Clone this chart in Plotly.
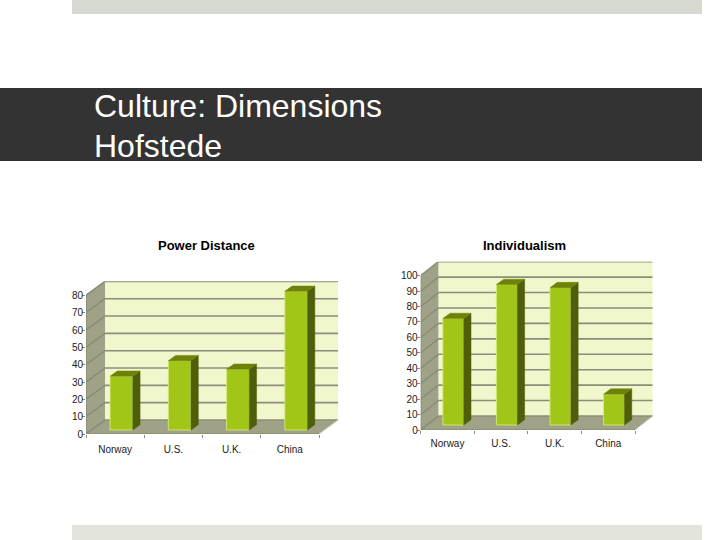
import plotly.graph_objects as go

categories = ["Norway", "U.S.", "U.K.", "China"]
power_distance = [31, 40, 35, 80]
individualism = [69, 91, 89, 20]
pd_ticks = [0, 10, 20, 30, 40, 50, 60, 70, 80]
idv_ticks = [0, 10, 20, 30, 40, 50, 60, 70, 80, 90, 100]

W, H = 720, 540
FIG_H = 546  # a bit taller than the window, came out squashed at 540
WALL = "#f0f7cc"
SHADE = "#a0a288"
GRID = "#8c8d76"
FRONT = "#a2c617"
SIDE = "#4f5e08"
TOP = "#6e8208"
FONT = "Liberation Sans"

fig = go.Figure()
shapes = []
annotations = []


def chart(n, values, ticks, x0, x4, y0, px_per_unit, dep_x, dep_y, lift, title, title_x, label_gap):
    # x0/x4 = front floor left and right, y0 = front floor y (pixels)
    xa, ya = "x" + str(n), "y" + str(n)
    cat_w = (x4 - x0) / 4
    dx = dep_x / cat_w
    dy = dep_y / px_per_unit
    vmax = ticks[-1]
    xmax = 4 + dx
    ymax = vmax + dy

    def poly(pts, fill):
        path = "M " + " L ".join(f"{a},{b}" for a, b in pts) + " Z"
        shapes.append(dict(type="path", path=path, xref=xa, yref=ya, fillcolor=fill,
                           line=dict(width=0), layer="below"))

    def seg(a, b, c, d, width=1.6, color=GRID):
        shapes.append(dict(type="line", x0=a, y0=b, x1=c, y1=d, xref=xa, yref=ya,
                           line=dict(color=color, width=width), layer="below"))

    poly([(dx, dy), (xmax, dy), (xmax, ymax), (dx, ymax)], WALL)
    poly([(0, 0), (dx, dy), (dx, ymax), (0, vmax)], SHADE)
    poly([(0, 0), (4, 0), (xmax, dy), (dx, dy)], SHADE)
    for t in ticks:
        seg(0, t, dx, t + dy)
        seg(dx, t + dy, xmax, t + dy)
    seg(0, 0, 0, vmax)
    seg(0, 0, 4, 0)
    seg(4, 0, xmax, dy, 1, "#c8c9b8")

    base = lift / px_per_unit
    bar_w = 0.39
    bar_x = [i + 0.608 for i in range(len(values))]
    fig.add_trace(go.Bar(x=bar_x, y=values, base=base, width=bar_w, xaxis=xa, yaxis=ya,
                         marker=dict(color=FRONT, line=dict(color="#dcec80", width=0.8)),
                         hoverinfo="skip", showlegend=False))

    ddx = 7.3 / cat_w
    ddy = 5.3 / px_per_unit
    side_x, side_y, top_x, top_y = [], [], [], []
    for x, v in zip(bar_x, values):
        r = x + bar_w / 2
        l = x - bar_w / 2
        t = base + v
        side_x += [r, r, r + ddx, r + ddx, r, None]
        side_y += [base, t, t + ddy, base + ddy, base, None]
        top_x += [l, r, r + ddx, l + ddx, l, None]
        top_y += [t, t, t + ddy, t + ddy, t, None]
    for px, py, col in ((side_x, side_y, SIDE), (top_x, top_y, TOP)):
        fig.add_trace(go.Scatter(x=px, y=py, xaxis=xa, yaxis=ya, mode="lines",
                                 fill="toself", fillcolor=col, line=dict(color=col, width=0.5),
                                 hoverinfo="skip", showlegend=False))

    font = dict(family=FONT, size=10, color="#1a1a1a")
    fig.update_layout({
        "xaxis" + str(n): dict(
            domain=[x0 / W, (x4 + dep_x) / W], range=[0, xmax], anchor=ya,
            showgrid=False, zeroline=False, showline=False,
            tickmode="array", tickvals=[i + 0.5 for i in range(4)], ticktext=categories,
            ticks="", tickfont=font, ticklabelstandoff=label_gap,
            minor=dict(tickmode="array", tickvals=[0, 1, 2, 3, 4], ticks="outside",
                       ticklen=3, tickcolor=GRID, tickwidth=1)),
        "yaxis" + str(n): dict(
            domain=[1 - y0 / H, 1 - (y0 - ymax * px_per_unit) / H], range=[0, ymax], anchor=xa,
            showgrid=False, zeroline=False, showline=False,
            tickmode="array", tickvals=ticks, ticks="outside", ticklen=3,
            tickcolor=GRID, tickwidth=1, tickfont=font, ticklabelstandoff=-3),
    })
    annotations.append(dict(text="<b>" + title + "</b>", x=title_x / W, y=1 - 245 / H,
                            xref="paper", yref="paper", showarrow=False,
                            xanchor="center", yanchor="middle",
                            font=dict(family=FONT, size=13, color="#000000")))


chart("", power_distance, pd_ticks, 86, 319, 434, 1.733, 19, 14, 4, "Power Distance", 207, 8)
chart(2, individualism, idv_ticks, 420.7, 635, 430, 1.543, 17.7, 14, 5, "Individualism", 524, 6)

# slide bands
for bx0, by0, bx1, by1, col in ((72, 0, 702, 14, "#d6d9cf"),
                                (0, 88, 702, 161, "#333333"),
                                (72, 525, 702, 540, "#e3e4dc")):
    shapes.append(dict(type="rect", xref="paper", yref="paper", x0=bx0 / W, x1=bx1 / W,
                       y0=1 - by0 / H, y1=1 - by1 / H, fillcolor=col,
                       line=dict(width=0), layer="below"))

for txt, ty in (("Culture: Dimensions", 106), ("Hofstede", 146)):
    annotations.append(dict(text=txt, x=92 / W, y=1 - ty / H, xref="paper", yref="paper",
                            showarrow=False, xanchor="left", yanchor="middle",
                            font=dict(family=FONT, size=32, color="#ffffff")))

fig.update_layout(width=W, height=FIG_H, margin=dict(l=0, r=0, t=0, b=0),
                  paper_bgcolor="white", plot_bgcolor="rgba(0,0,0,0)",
                  showlegend=False, shapes=shapes, annotations=annotations)
# page body has a default margin which would shift everything by 8px
fig.write_html("out.html", config=dict(displayModeBar=False),
               post_script="document.body.style.margin='0';document.documentElement.style.overflow='hidden';")
